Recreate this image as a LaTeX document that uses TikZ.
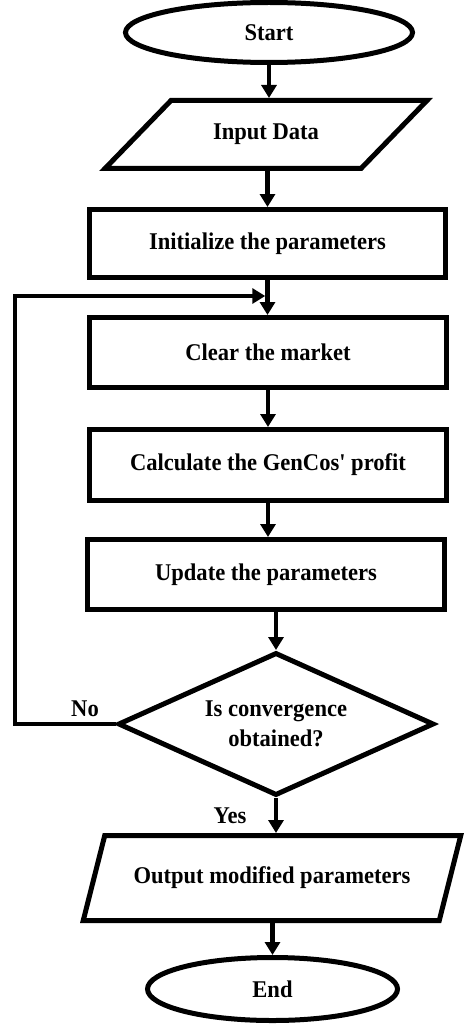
\documentclass[tikz,border=0pt]{standalone}
\usepackage{fontspec}
\newfontfamily\diafont[FakeStretch=0.94]{Liberation Serif}
\usetikzlibrary{shapes.geometric,arrows.meta,calc}
\begin{document}
\begin{tikzpicture}[x=1pt,y=-1pt,
  every node/.style={font=\diafont\bfseries\fontsize{24}{30}\selectfont},
  box/.style={draw, line width=5pt, rectangle, inner sep=0pt, minimum width=357pt, minimum height=70pt},
  term/.style={draw, line width=5pt, ellipse, inner sep=0pt},
  paratext/.style={inner sep=0pt, outer sep=0pt, minimum width=10pt},
  shapeline/.style={line width=5pt, line join=miter},
  arr/.style={line width=4.5pt, -{Triangle[width=15pt,length=13pt]}},
  lbl/.style={inner sep=0pt}]
\useasboundingbox (0,0) rectangle (474,1027);

% nodes
\node[term, minimum width=287pt, minimum height=60pt] (start) at (269,32.5) {Start};

\node[paratext, minimum height=73pt] (inp) at (266,134.5) {Input Data};
\draw[shapeline] ($(inp.center)+(-95,-34)$) -- ($(inp.center)+(161,-34)$)
  -- ($(inp.center)+(95,34)$) -- ($(inp.center)+(-161,34)$) -- cycle;

\node[box, minimum width=356pt, minimum height=68pt] (init) at (267.5,243.5) {Initialize the parameters};
\node[box] (clear) at (268,352.5) {Clear the market};
\node[box, minimum height=71pt] (calc) at (268,465) {Calculate the GenCos' profit};
\node[box] (upd) at (266,574.5) {Update the parameters};

\node[draw, diamond, line width=5pt, aspect=2.2, minimum width=316pt, minimum height=143pt,
      inner sep=0pt, align=center] (dia) at (276,724) {Is convergence\\obtained?};

\node[paratext, minimum height=90pt] (out) at (272,878) {Output modified parameters};
\draw[shapeline] ($(out.center)+(-167.25,-42.5)$) -- ($(out.center)+(188.75,-42.5)$)
  -- ($(out.center)+(167.25,42.5)$) -- ($(out.center)+(-188.75,42.5)$) -- cycle;

\node[term, minimum width=250pt, minimum height=63pt] (end) at (272.5,989) {End};

\node[lbl] (no) at (85,709) {No};
\node[lbl] (yes) at (230,816) {Yes};

\coordinate (lpB) at (15,724);
\coordinate (lpT) at (15,296);

% connectors
\draw[arr] (start.south) -- (start.south |- inp.north);
\draw[arr] (init.north |- inp.south) -- (init.north);
\draw[arr] (init.south) -- (init.south |- clear.north);
\draw[arr] (clear.south) -- (clear.south |- calc.north);
\draw[arr] (calc.south) -- (calc.south |- upd.north);
\draw[arr] (dia.north |- upd.south) -- (dia.north);
\draw[arr] (dia.south) -- (dia.south |- out.north);
\draw[arr] (end.north |- out.south) -- (end.north);
\draw[arr, line join=miter] (dia.west) -- (lpB) -- (lpT) -- ([xshift=-2.25pt]init.south |- lpT);
\end{tikzpicture}
\end{document}
